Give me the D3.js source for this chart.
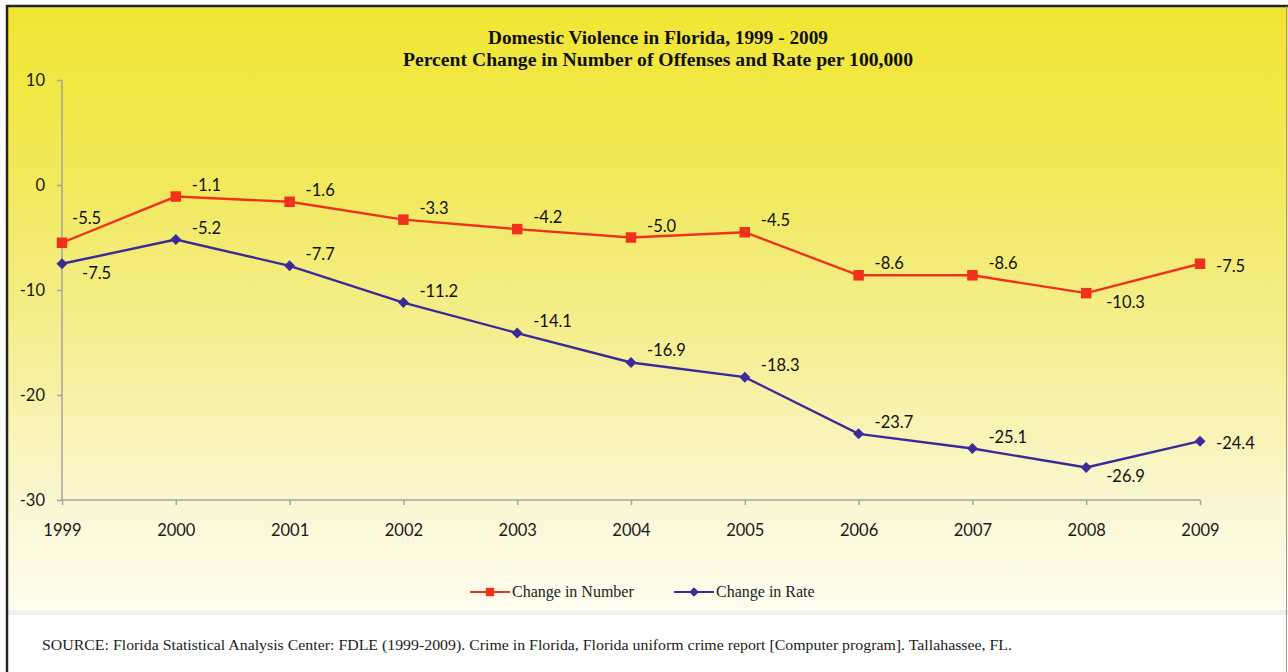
<!DOCTYPE html>
<html><head><meta charset="utf-8">
<script src="https://cdn.jsdelivr.net/npm/d3@7"></script>
<style>html,body{margin:0;padding:0;background:#fff;}svg{display:block;}</style>
</head><body>
<svg id="c" width="1288" height="672"></svg>
<script>
const years = ["1999","2000","2001","2002","2003","2004","2005","2006","2007","2008","2009"];
const changeInNumber = [-5.5,-1.1,-1.6,-3.3,-4.2,-5.0,-4.5,-8.6,-8.6,-10.3,-7.5];
const changeInRate = [-7.5,-5.2,-7.7,-11.2,-14.1,-16.9,-18.3,-23.7,-25.1,-26.9,-24.4];
const yTicks = [10,0,-10,-20,-30];
const numberLabelPlace = ["up","ar","ar","ar","ar","ar","ar","ar","ar","br","r"];
const rateLabelPlace = ["br","ar","ar","ar","ar","ar","ar","ar","ar","br","r"];
const titleLines = ["Domestic Violence in Florida, 1999 - 2009","Percent Change in Number of Offenses and Rate per 100,000"];
const seriesNames = ["Change in Number","Change in Rate"];
const sourceText = "SOURCE: Florida Statistical Analysis Center:  FDLE (1999-2009). Crime in Florida, Florida uniform crime report [Computer program]. Tallahassee, FL.";

const fmt1 = v => d3.format(".1f")(v).replace("\u2212","-");
const fmt0 = v => d3.format("d")(v).replace("\u2212","-");

const svg = d3.select("#c");
const defs = svg.append("defs");
const g = defs.append("linearGradient").attr("id","bg").attr("x1",0).attr("y1",0).attr("x2",0).attr("y2",1);
[[0,"#f1e630"],[0.3,"#f2e95e"],[0.6,"#f5f09c"],[0.82,"#faf7d2"],[1,"#fefdf0"]].forEach(s=>g.append("stop").attr("offset",s[0]).attr("stop-color",s[1]));

svg.append("rect").attr("x",7).attr("y",6).attr("width",1281).attr("height",604).attr("fill","url(#bg)");
svg.append("rect").attr("x",7).attr("y",610).attr("width",1281).attr("height",5).attr("fill","#f1f1ee");
// frame
svg.append("line").attr("x1",6).attr("x2",1288).attr("y1",6).attr("y2",6).attr("stroke","#222").attr("stroke-width",2.5);
svg.append("line").attr("x1",7).attr("x2",7).attr("y1",5).attr("y2",672).attr("stroke","#222").attr("stroke-width",2.5);
svg.append("line").attr("x1",1286.5).attr("x2",1286.5).attr("y1",6).attr("y2",672).attr("stroke","#9a9a90").attr("stroke-width",1);

const x = d3.scalePoint().domain(years).range([62,1200]);
const y = d3.scaleLinear().domain([-30,10]).range([500,80]);

const axisColor = "#a7a2a6";
const tickFont = "Lato, 'Open Sans', sans-serif";
const yAx = svg.append("g").attr("transform","translate(62,0)")
  .call(d3.axisLeft(y).tickValues(yTicks).tickSize(5).tickPadding(12).tickFormat(fmt0));
const xAx = svg.append("g").attr("transform","translate(0,500)")
  .call(d3.axisBottom(x).tickSize(5).tickPadding(19));
[yAx,xAx].forEach(a=>{
  a.select(".domain").attr("stroke",axisColor).attr("stroke-width",1.5);
  a.selectAll(".tick line").attr("stroke",axisColor).attr("stroke-width",1.5);
  a.selectAll(".tick text").attr("fill","#1a1a1a").attr("font-size",16.5).attr("font-family",tickFont);
});
yAx.select(".domain").attr("d","M0,80V500");
xAx.select(".domain").attr("d","M62,0H1200");

// title
const titleW = [340,510];
svg.append("g").selectAll("text").data(titleLines).join("text")
  .attr("x",(d,i)=>658-titleW[i]/2).attr("y",(d,i)=>44+i*22)
  .attr("textLength",(d,i)=>titleW[i]).attr("lengthAdjust","spacingAndGlyphs")
  .attr("font-family","'Liberation Serif', 'Times New Roman', serif").attr("font-weight","bold").attr("font-size",18)
  .attr("fill","#111").text(d=>d);

const numColor = "#f0321c", rateColor = "#3a2a9a";
const line = d3.line().x((d,i)=>x(years[i])).y(d=>y(d));

function markerPath(marker, big){
  if (marker==="square") return d3.symbol().type(d3.symbolSquare).size(big?110:70)();
  return d3.symbol().type(d3.symbolSquare).size(big?60:45)();
}
function drawSeries(vals, color, marker, places){
  svg.append("path").datum(vals).attr("d",line).attr("fill","none").attr("stroke",color).attr("stroke-width",2.4);
  svg.append("g").selectAll("path").data(vals).join("path")
    .attr("transform",(d,i)=>`translate(${x(years[i])},${y(d)})` + (marker==="diamond"?" rotate(45)":""))
    .attr("d",markerPath(marker,true)).attr("fill",color);
  svg.append("g").selectAll("text").data(vals).join("text")
    .attr("x",(d,i)=>x(years[i]) + (places[i]==="up"?10:(places[i]==="br"?20:16)))
    .attr("y",(d,i)=>y(d) + ({up:-19,ar:-6,br:15,r:8})[places[i]])
    .attr("font-family",tickFont).attr("font-size",16.5).attr("fill","#111")
    .text(d=>fmt1(d));
}
drawSeries(changeInNumber, numColor, "square", numberLabelPlace);
drawSeries(changeInRate, rateColor, "diamond", rateLabelPlace);

// legend
const leg = [{name:seriesNames[0],color:numColor,marker:"square",x0:470},{name:seriesNames[1],color:rateColor,marker:"diamond",x0:674}];
const lg = svg.append("g");
leg.forEach(l=>{
  lg.append("line").attr("x1",l.x0).attr("x2",l.x0+40).attr("y1",592).attr("y2",592).attr("stroke",l.color).attr("stroke-width",2.2);
  lg.append("path").attr("transform",`translate(${l.x0+20},592)` + (l.marker==="diamond"?" rotate(45)":""))
    .attr("d",markerPath(l.marker,false)).attr("fill",l.color);
  lg.append("text").attr("x",l.x0+42).attr("y",597).attr("font-family","'Liberation Serif', 'Times New Roman', serif")
    .attr("font-size",16).attr("fill","#222").text(l.name);
});

svg.append("text").attr("x",42).attr("y",650).attr("font-family","'Liberation Serif', 'Times New Roman', serif")
  .attr("font-size",15.5).attr("fill","#222").attr("textLength",970).attr("lengthAdjust","spacingAndGlyphs").text(sourceText);
</script>
</body></html>
